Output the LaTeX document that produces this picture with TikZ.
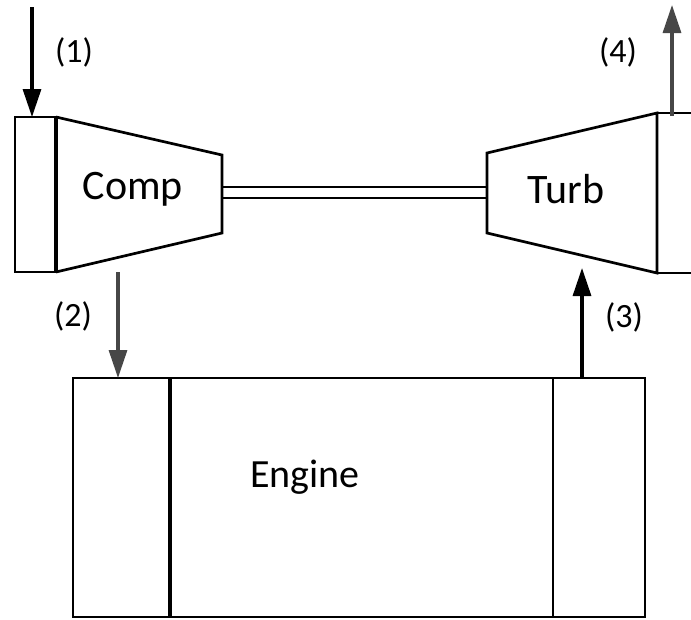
\documentclass[tikz,border=0pt]{standalone}
\usepackage{fontspec}
\setmainfont{Carlito}
\usetikzlibrary{arrows.meta}
\begin{document}
\begin{tikzpicture}[x=1pt,y=-1pt, line join=miter,
  part/.style={draw=black, line width=2.7pt},
  divider/.style={draw=black, line width=3.8pt},
  flow/.style={line width=3.2pt, -{Triangle[length=28pt,width=18pt]}},
  flowgray/.style={flow, draw=black!72, fill=black!72},
  lbl/.style={font=\fontsize{34}{38}\selectfont, inner sep=0pt},
  big/.style={font=\fontsize{42}{46}\selectfont, inner sep=0pt}]
\useasboundingbox (0,0) rectangle (691,619);
\clip (0,0) rectangle (691,619);
% compressor
\coordinate (cin) at (32,117);
\coordinate (cout) at (118,272);
\draw[part] (15,117) rectangle (56,272);
\draw[part] (56,117) -- (222,155) -- (222,233) -- (56,272);
\draw[divider] (56,117) -- (56,272);
\node[big] (comp) at (133,189) {Comp};
% shaft
\draw[line width=2.8pt] (222,187) -- (487,187);
\draw[line width=2.8pt] (222,198) -- (487,198);
% turbine
\coordinate (tin) at (582,268);
\coordinate (tout) at (672,113);
\draw[part] (487,153) -- (657,113) -- (657,273) -- (487,233) -- cycle;
\draw[part] (657,113) -- (700,113) -- (700,273) -- (657,273);
\node[big] (turb) at (566,189) {Turb};
% engine
\coordinate (ein) at (118,378);
\coordinate (eout) at (582,378);
\draw[part] (73,378) rectangle (645,617);
\draw[divider] (170,378) -- (170,617);
\draw[part] (553,378) -- (553,617);
\node[font=\fontsize{40}{44}\selectfont, inner sep=0pt] (engine) at (305,477) {Engine};
% flows
\coordinate (src) at (32,7);
\coordinate (sink) at (672,5);
\draw[flow] (src) -- (cin);
\draw[flowgray] (cout) -- (ein);
\draw[flow] (eout) -- (tin);
\draw[flowgray] ([yshift=-3pt]tout) -- (sink);
\node[lbl] (l1) at (74,52) {(1)};
\node[lbl] (l2) at (73,316) {(2)};
\node[lbl] (l3) at (624,317) {(3)};
\node[lbl] (l4) at (618,52) {(4)};
\end{tikzpicture}
\end{document}
